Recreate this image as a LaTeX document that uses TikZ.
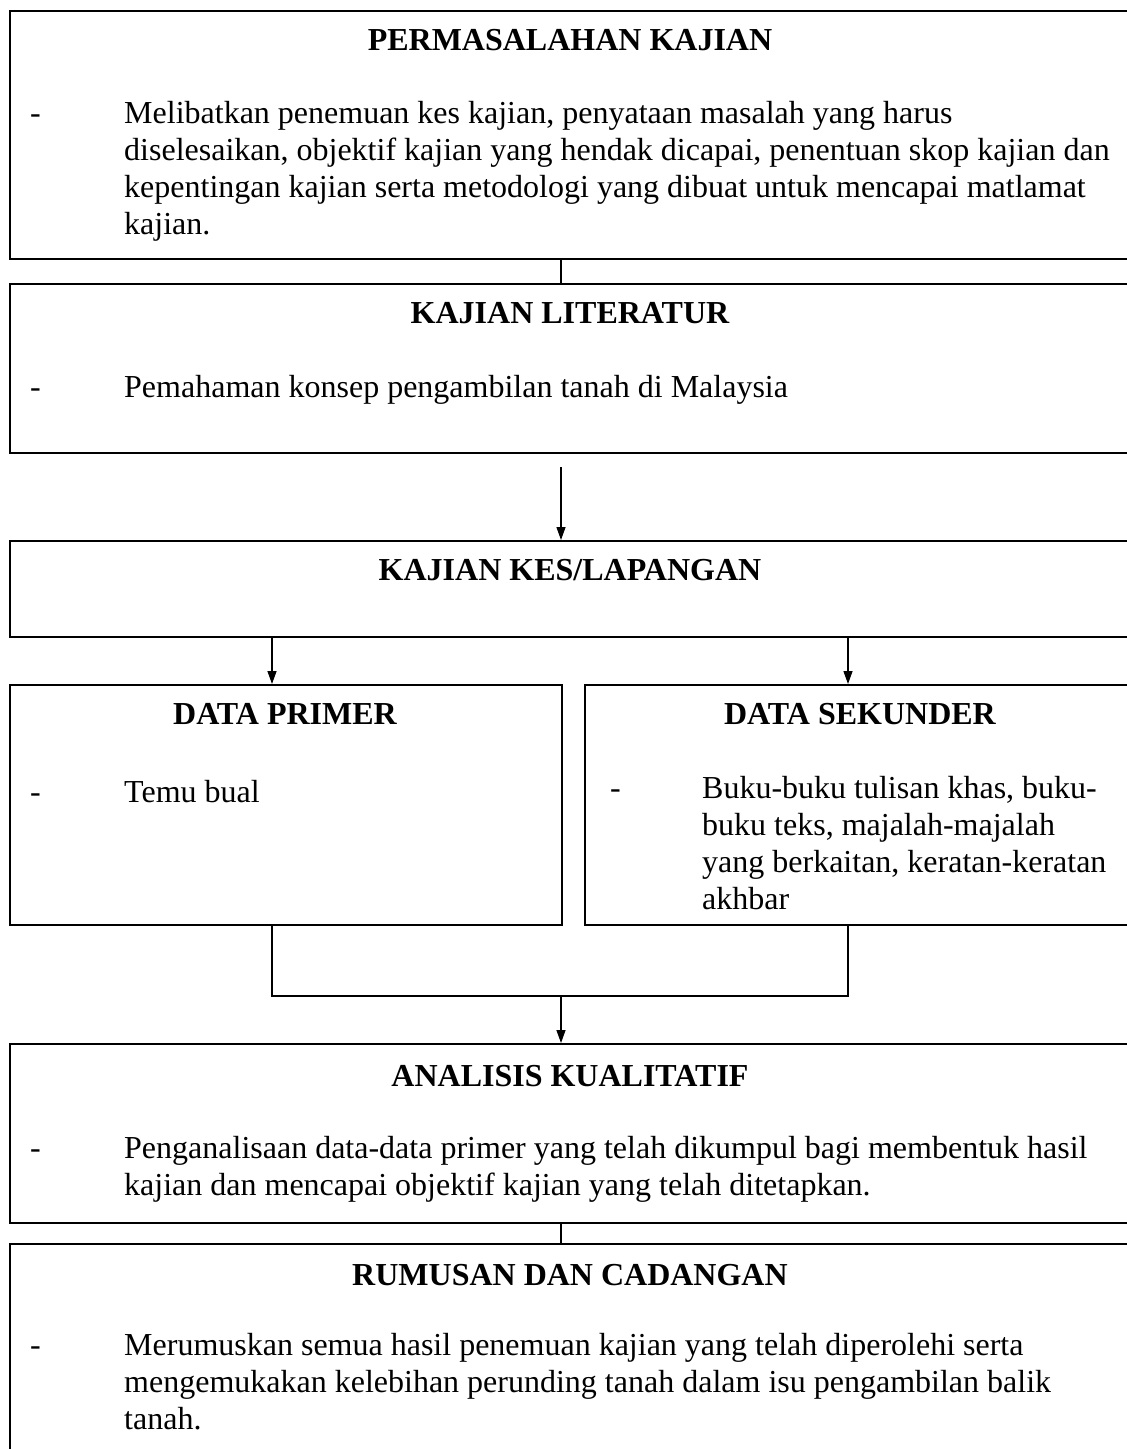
\documentclass[tikz,border=0pt]{standalone}
\usepackage{fontspec}
\setmainfont{Liberation Serif}
\usetikzlibrary{arrows.meta,positioning}
\tikzset{
  kotak/.style={draw, line width=1.8pt, anchor=north west, inner sep=0pt},
  tajuk/.style={anchor=base, inner sep=0pt, font=\fontsize{32}{37}\selectfont\bfseries},
  isi/.style={anchor=base west, inner sep=0pt, font=\fontsize{32}{37}\selectfont},
  sengkang/.style={anchor=base west, inner sep=0pt, font=\fontsize{32}{37}\selectfont},
  garis/.style={line width=1.3pt},
  anak/.style={-{Triangle[length=13pt,width=9pt]}, line width=1.3pt}
}
\newcommand{\perenggan}[1]{\parbox[t]{1050pt}{\raggedright #1}}

\begin{document}
\begin{tikzpicture}[x=1pt,y=-1pt]
  \useasboundingbox (0,0) rectangle (1127,1449);
  % kotak-kotak
  \node[kotak, minimum width=1122, minimum height=248] (masalah) at (9,10) {};
  \node[kotak, minimum width=1122, minimum height=169] (literatur) at (9,283) {};
  \node[kotak, minimum width=1122, minimum height=96] (kes) at (9,540) {};
  \node[kotak, minimum width=552, minimum height=240] (primer) at (9,684) {};
  \node[kotak, minimum width=547, minimum height=240] (sekunder) at (584,684) {};
  \node[kotak, minimum width=1122, minimum height=179] (analisis) at (9,1043) {};
  \node[kotak, minimum width=1122, minimum height=240] (rumusan) at (9,1243) {};

  % tajuk
  \node[tajuk] (tmasalah) at (570,50) {PERMASALAHAN KAJIAN};
  \node[tajuk] (tliteratur) at (570,323) {KAJIAN LITERATUR};
  \node[tajuk] (tkes) at (570,580) {KAJIAN KES/LAPANGAN};
  \node[tajuk] (tprimer) at (285,724) {DATA PRIMER};
  \node[tajuk] (tsekunder) at (860,724) {DATA SEKUNDER};
  \node[tajuk] (tanalisis) at (570,1086) {ANALISIS KUALITATIF};
  \node[tajuk] (trumusan) at (570,1285) {RUMUSAN DAN CADANGAN};

  % isi
  \node[sengkang] (smasalah) at (30,123) {-};
  \node[isi] (imasalah) at (124,123) {\perenggan{Melibatkan penemuan kes kajian, penyataan masalah yang harus\\
    diselesaikan, objektif kajian yang hendak dicapai, penentuan skop kajian dan\\
    kepentingan kajian serta metodologi yang dibuat untuk mencapai matlamat\\
    kajian.}};
  \node[sengkang] (sliteratur) at (30,397) {-};
  \node[isi] (iliteratur) at (124,397) {\perenggan{Pemahaman konsep pengambilan tanah di Malaysia}};
  \node[sengkang] (sprimer) at (30,802) {-};
  \node[isi] (iprimer) at (124,802) {\perenggan{Temu bual}};
  \node[sengkang] (ssekunder) at (610,798) {-};
  \node[isi] (isekunder) at (702,798) {\perenggan{Buku-buku tulisan khas, buku-\\
    buku teks, majalah-majalah\\
    yang berkaitan, keratan-keratan\\
    akhbar}};
  \node[sengkang] (sanalisis) at (30,1158) {-};
  \node[isi] (ianalisis) at (124,1158) {\perenggan{Penganalisaan data-data primer yang telah dikumpul bagi membentuk hasil\\
    kajian dan mencapai objektif kajian yang telah ditetapkan.}};
  \node[sengkang] (srumusan) at (30,1355) {-};
  \node[isi] (irumusan) at (124,1355) {\perenggan{Merumuskan semua hasil penemuan kajian yang telah diperolehi serta\\
    mengemukakan kelebihan perunding tanah dalam isu pengambilan balik\\
    tanah.}};

  % penyambung
  \coordinate (tulang) at (561,0);
  \coordinate (mula) at (561,467);
  \coordinate (kiri) at (272,996);
  \coordinate (kanan) at (848,996);
  \coordinate (tengah) at (561,996);
  \draw[garis] (masalah.south -| tulang) -- (literatur.north -| tulang);
  \draw[anak] (mula) -- (kes.north -| mula);
  \draw[anak] (kes.south -| kiri) -- (primer.north -| kiri);
  \draw[anak] (kes.south -| kanan) -- (sekunder.north -| kanan);
  \draw[garis] (primer.south -| kiri) -- (kiri) -- (kanan) -- (sekunder.south -| kanan);
  \draw[anak] (tengah) -- (analisis.north -| tengah);
  \draw[garis] (analisis.south -| tulang) -- (rumusan.north -| tulang);
\end{tikzpicture}
\end{document}
